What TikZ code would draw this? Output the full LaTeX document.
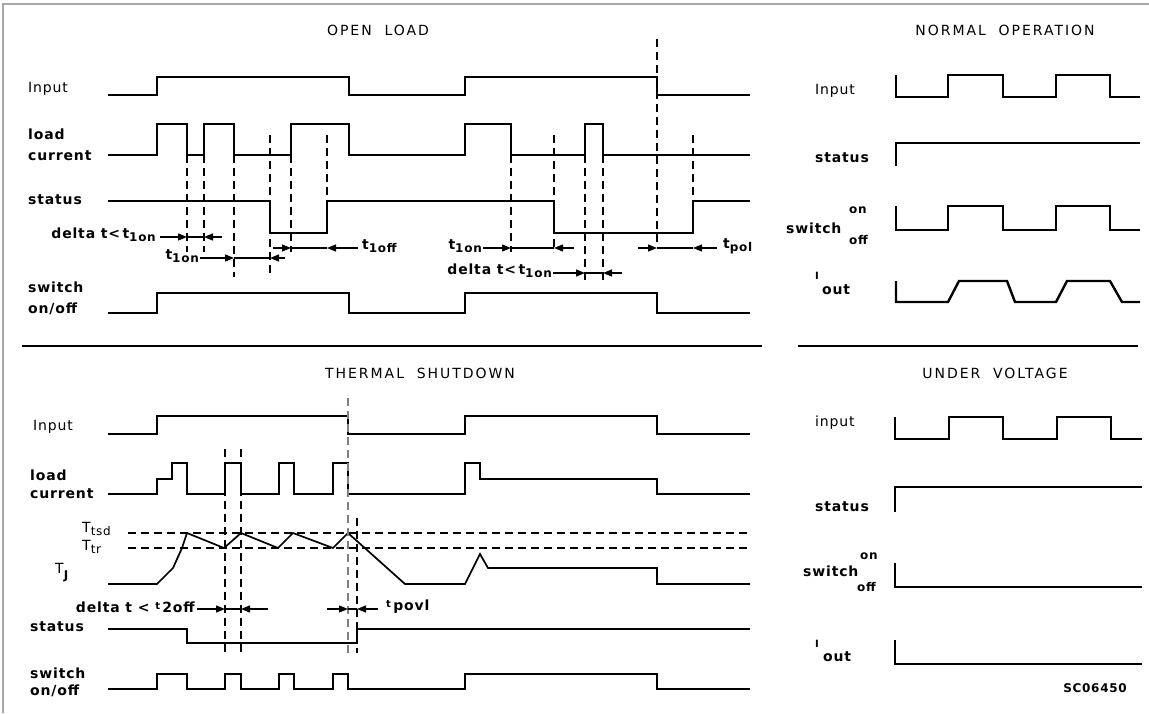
\documentclass[tikz,border=0pt]{standalone}
\usepackage{fontspec}
\setmainfont{DejaVu Sans}[LetterSpace=6]
\newfontfamily\ttlfont{DejaVu Sans}[LetterSpace=14]
\usetikzlibrary{arrows.meta}
\newcommand{\sbx}[1]{\raisebox{-3pt}{\fontsize{12}{12}\selectfont #1}}
\begin{document}
\begin{tikzpicture}[x=1pt,y=-1pt,
  sg/.style={line width=1.4pt},
  sgk/.style={line width=2.4pt},
  dsh/.style={line width=1.3pt, dash pattern=on 8pt off 5pt},
  dshk/.style={line width=2pt, dash pattern=on 8pt off 5pt},
  arr/.style={line width=1.3pt,-{Triangle[length=9pt,width=7pt]}},
  lbl/.style={anchor=west, inner sep=0pt, font=\fontsize{14}{14}\selectfont},
  blbl/.style={anchor=west, inner sep=0pt, font=\fontsize{14}{14}\selectfont\bfseries},
  ttl/.style={inner sep=0pt, font=\fontsize{14}{14}\selectfont\ttlfont}]
\useasboundingbox (0,0) rectangle (1149,713);
% frame
\draw[gray!70, line width=1.6pt] (3,713) -- (3,4) -- (1149,4);
% separators
\draw[line width=2.2pt] (22,346) -- (762,346);
\draw[line width=2.2pt] (798,346) -- (1138,346);

% ================= OPEN LOAD =================
\node[ttl] (tOL) at (378,30) {OPEN\ \ LOAD};
\node[lbl] (lIn1) at (28,89) {Input};
\node[blbl] (lLc1a) at (28,134) {load};
\node[blbl] (lLc1b) at (28,156) {current};
\node[blbl] (lSt1) at (28,200) {status};
\node[blbl] (lSw1a) at (28,287) {switch};
\node[blbl] (lSw1b) at (28,309) {on/off};
% input
\draw[sg] (108,95) -- (157,95) -- (157,77) -- (349,77) -- (349,95) -- (465,95) -- (465,77) -- (657,77) -- (657,95) -- (750,95);
\draw[sgk] (157,77) -- (349,77) (465,77) -- (657,77);
% load current
\draw[sg] (108,155) -- (157,155) -- (157,124) -- (187,124) -- (187,155) -- (204,155) -- (204,124) -- (234,124) -- (234,155) -- (291,155) -- (291,124) -- (349,124) -- (349,155) -- (465,155) -- (465,124) -- (511,124) -- (511,155) -- (585,155) -- (585,124) -- (603,124) -- (603,155) -- (750,155);
\draw[sgk] (157,124) -- (187,124) -- (187,155) (204,124) -- (234,124) (291,124) -- (349,124) (465,124) -- (511,124) (585,155) -- (585,124) -- (603,124) -- (603,155);
% status
\draw[sg] (108,201) -- (270,201) -- (270,233) -- (327,233) -- (327,201) -- (554,201) -- (554,233) -- (693,233) -- (693,201) -- (750,201);
\draw[sgk] (270,233) -- (327,233) -- (327,201) (554,233) -- (693,233) -- (693,201);
% switch
\draw[sg] (108,313) -- (157,313) -- (157,293) -- (349,293) -- (349,313) -- (465,313) -- (465,293) -- (657,293) -- (657,313) -- (750,313);
\draw[sgk] (157,293) -- (349,293) (465,293) -- (657,293);
% dashed verticals
\draw[dsh] (187,155) -- (187,252);
\draw[dsh] (204,155) -- (204,252);
\draw[dsh] (234,155) -- (234,277);
\draw[dsh] (270,135) -- (270,277);
\draw[dsh] (291,155) -- (291,252);
\draw[dsh] (327,135) -- (327,201);
\draw[dsh] (511,155) -- (511,252);
\draw[dsh] (554,135) -- (554,252);
\draw[dshk] (585,155) -- (585,280);
\draw[dshk] (603,155) -- (603,280);
\draw[dsh] (657,39) -- (657,245);
\draw[dsh] (693,135) -- (693,201);
% arrows
\node[blbl, anchor=east] (lD1) at (156,235) {delta t<\,t\sbx{1on}};
\draw[arr] (160,237) -- (187,237);
\draw[sg] (187,237) -- (204,237);
\draw[arr] (222,237) -- (204,237);
\node[blbl, anchor=east] (lT1) at (199,256) {t\sbx{1on}};
\draw[arr] (200,258) -- (234,258);
\draw[sg] (234,258) -- (270,258);
\draw[arr] (285,258) -- (270,258);
\draw[arr] (273,248) -- (291,248);
\draw[sg] (291,248) -- (327,248);
\draw[arr] (358,248) -- (327,248);
\node[blbl] (lT2) at (362,246) {t\sbx{1off}};
\node[blbl, anchor=east] (lT3) at (482,246) {t\sbx{1on}};
\draw[arr] (483,248) -- (511,248);
\draw[sg] (511,248) -- (554,248);
\draw[arr] (574,248) -- (554,248);
\node[blbl, anchor=east] (lD2) at (552,271) {delta t<\,t\sbx{1on}};
\draw[arr] (553,273) -- (585,273);
\draw[sg] (585,273) -- (603,273);
\draw[arr] (622,273) -- (603,273);
\draw[arr] (638,248) -- (657,248);
\draw[sg] (657,248) -- (693,248);
\draw[arr] (717,248) -- (693,248);
\node[blbl] (lT4) at (723,246) {t\sbx{pol}};

% ================= NORMAL OPERATION =================
\node[ttl] (tNO) at (1005,30) {NORMAL\ \ OPERATION};
\node[lbl] (lIn2) at (815,91) {Input};
\node[blbl] (lSt2) at (815,158) {status};
\node[blbl] (lSw2) at (786,228) {switch};
\node[blbl,font=\fontsize{12}{12}\selectfont\bfseries] (lOn2) at (849,210) {on};
\node[blbl,font=\fontsize{12}{12}\selectfont\bfseries] (lOff2) at (849,240) {off};
\node[blbl,font=\fontsize{10}{10}\selectfont\bfseries] (lI2) at (815,276) {I};
\node[blbl] (lOut2) at (822,290) {out};
\draw[sgk] (896,75) -- (896,97) -- (948,97) -- (948,75) -- (1003,75) -- (1003,97) -- (1056,97) -- (1056,75) -- (1110,75) -- (1110,97) -- (1140,97);
\draw[sg] (896,166) -- (896,143);
\draw[line width=2.6pt] (895,143) -- (1140,143);
\draw[sgk] (896,206) -- (896,230) -- (948,230) -- (948,206) -- (1003,206) -- (1003,230) -- (1056,230) -- (1056,206) -- (1110,206) -- (1110,230) -- (1140,230);
\draw[sgk] (896,281) -- (896,302) -- (948,302) -- (959,281) -- (1007,281) -- (1015,302) -- (1056,302) -- (1067,281) -- (1110,281) -- (1122,302) -- (1140,302);

% ================= THERMAL SHUTDOWN =================
\node[ttl, anchor=west] (tTS) at (325,373) {THERMAL\ \ SHUTDOWN};
\node[lbl] (lIn3) at (33,427) {Input};
\node[blbl] (lLc3a) at (30,475) {load};
\node[blbl] (lLc3b) at (30,494) {current};
\node[lbl] (lTtsd) at (82,529) {T\sbx{tsd}};
\node[lbl] (lTtr) at (82,547) {T\sbx{tr}};
\node[lbl] (lTJ) at (55,573) {T\raisebox{-6pt}{\fontsize{12}{12}\selectfont\bfseries J}};
\node[blbl] (lSt3) at (30,627) {status};
\node[blbl] (lSw3a) at (30,673) {switch};
\node[blbl] (lSw3b) at (30,691) {on/off};
% input
\draw[sg] (108,434) -- (157,434) -- (157,416) -- (348,416) -- (348,434) -- (465,434) -- (465,416) -- (657,416) -- (657,434) -- (750,434);
% load current
\draw[sg] (108,494) -- (157,494) -- (157,479) -- (172,479) -- (172,463) -- (187,463) -- (187,494) -- (225,494) -- (225,463) -- (241,463) -- (241,494) -- (279,494) -- (279,463) -- (294,463) -- (294,494) -- (333,494) -- (333,463) -- (348,463) -- (348,494) -- (465,494) -- (465,463) -- (480,463) -- (480,479) -- (657,479) -- (657,494) -- (750,494);
\draw[sgk] (172,463) -- (187,463) -- (187,494) (225,494) -- (225,463) -- (241,463) -- (241,494) (279,463) -- (294,463) (333,463) -- (348,463) (465,463) -- (480,463);
% thresholds
\draw[dsh] (128,533) -- (750,533);
\draw[dsh] (128,548) -- (750,548);
% TJ
\draw[line width=1.7pt] (108,584) -- (157,584) -- (173,568) -- (182,548) -- (187,533) -- (224,548) -- (241,533) -- (278,548) -- (293,533) -- (333,548) -- (348,533) -- (405,584) -- (465,584) -- (480,554) -- (488,568) -- (657,568) -- (657,584) -- (750,584);
% dashed verticals
\draw[dsh] (225,449) -- (225,653);
\draw[dsh] (241,449) -- (241,653);
\draw[dsh, gray] (348,398) -- (348,653);
\draw[dsh] (357,518) -- (357,653);
% arrows
\node[blbl, anchor=east] (lD3) at (195,607) {delta t < \raisebox{3pt}{\fontsize{10}{10}\selectfont t}\,2off};
\draw[arr] (197,609) -- (225,609);
\draw[sg] (225,609) -- (241,609);
\draw[arr] (268,609) -- (241,609);
\draw[arr] (327,609) -- (348,609);
\draw[sg] (348,609) -- (357,609);
\draw[arr] (378,609) -- (357,609);
\node[blbl] (lTp) at (386,607) {\raisebox{3pt}{\fontsize{10}{10}\selectfont t}\,povl};
% status
\draw[sg] (108,629) -- (187,629) -- (187,643) -- (357,643) -- (357,629) -- (750,629);
% switch
\draw[sgk] (108,689) -- (157,689) -- (157,674) -- (187,674) -- (187,689) -- (225,689) -- (225,674) -- (241,674) -- (241,689) -- (279,689) -- (279,674) -- (294,674) -- (294,689) -- (333,689) -- (333,674) -- (348,674) -- (348,689) -- (465,689) -- (465,674) -- (657,674) -- (657,689) -- (750,689);

% ================= UNDER VOLTAGE =================
\node[ttl] (tUV) at (995,373) {UNDER\ \ VOLTAGE};
\node[lbl] (lIn4) at (815,423) {input};
\node[blbl] (lSt4) at (815,507) {status};
\node[blbl] (lSw4) at (803,571) {switch};
\node[blbl,font=\fontsize{12}{12}\selectfont\bfseries] (lOn4) at (860,556) {on};
\node[blbl,font=\fontsize{12}{12}\selectfont\bfseries] (lOff4) at (857,587) {off};
\node[blbl,font=\fontsize{10}{10}\selectfont\bfseries] (lI4) at (815,644) {I};
\node[blbl] (lOut4) at (823,657) {out};
\draw[sg] (895,417) -- (895,439) -- (949,439) -- (949,417) -- (1003,417) -- (1003,439) -- (1057,439) -- (1057,417) -- (1111,417) -- (1111,439) -- (1142,439);
\draw[sg] (895,512) -- (895,487) -- (1142,487);
\draw[sg] (895,563) -- (895,587) -- (1142,587);
\draw[sg] (895,640) -- (895,664) -- (1142,664);
\node[inner sep=0pt, font=\fontsize{12}{12}\selectfont\bfseries] (lSC) at (1095,688) {SC06450};
\end{tikzpicture}
\end{document}
